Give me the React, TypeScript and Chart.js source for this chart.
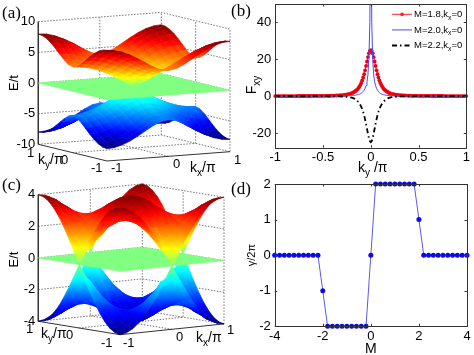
import React, { useEffect, useRef } from "react";
import { Chart, registerables } from "chart.js";

Chart.register(...registerables);
Chart.defaults.font.family = "'Liberation Sans', Arial, sans-serif";
Chart.defaults.color = "#000";

// ---------- data ----------
const kGrid = [-1, -0.875, -0.75, -0.625, -0.5, -0.375, -0.25, -0.125, 0, 0.125, 0.25, 0.375, 0.5, 0.625, 0.75, 0.875, 1];

// upper band, one quadrant (|kx| rows, |ky| columns, in steps of 1/8)
const bandQuarterA = [
  [0.0, 0.78, 1.53, 2.22, 2.83, 3.33, 3.7, 3.92, 4.0],
  [0.78, 1.12, 1.77, 2.43, 3.04, 3.54, 3.91, 4.14, 4.22],
  [1.53, 1.77, 2.32, 2.95, 3.56, 4.08, 4.47, 4.72, 4.8],
  [2.22, 2.43, 2.95, 3.59, 4.23, 4.78, 5.2, 5.46, 5.55],
  [2.83, 3.04, 3.56, 4.23, 4.9, 5.49, 5.94, 6.23, 6.32],
  [3.33, 3.54, 4.08, 4.78, 5.49, 6.12, 6.6, 6.91, 7.01],
  [3.7, 3.91, 4.47, 5.2, 5.94, 6.6, 7.12, 7.44, 7.55],
  [3.92, 4.14, 4.72, 5.46, 6.23, 6.91, 7.44, 7.77, 7.89],
  [4.0, 4.22, 4.8, 5.55, 6.32, 7.01, 7.55, 7.89, 8.0],
];
const bandQuarterC = [
  [4.0, 3.92, 3.7, 3.33, 2.83, 2.22, 1.53, 0.78, 0.0],
  [3.92, 3.85, 3.64, 3.29, 2.83, 2.27, 1.67, 1.08, 0.78],
  [3.7, 3.64, 3.46, 3.19, 2.83, 2.42, 2.0, 1.67, 1.53],
  [3.33, 3.29, 3.19, 3.03, 2.83, 2.61, 2.42, 2.27, 2.22],
  [2.83, 2.83, 2.83, 2.83, 2.83, 2.83, 2.83, 2.83, 2.83],
  [2.22, 2.27, 2.42, 2.61, 2.83, 3.03, 3.19, 3.29, 3.33],
  [1.53, 1.67, 2.0, 2.42, 2.83, 3.19, 3.46, 3.64, 3.7],
  [0.78, 1.08, 1.67, 2.27, 2.83, 3.29, 3.64, 3.85, 3.92],
  [0.0, 0.78, 1.53, 2.22, 2.83, 3.33, 3.7, 3.92, 4.0],
];
const energyTicksA = [-10, -5, 0, 5, 10];
const energyTicksC = [-4, -2, 0, 2, 4];

const seriesNames = ["M=1.8,k_x=0", "M=2.0,k_x=0", "M=2.2,k_x=0"];
const kyHalf = [
  0, 0.01, 0.02, 0.03, 0.04, 0.05, 0.06, 0.07, 0.08, 0.09, 0.1, 0.11, 0.12, 0.13, 0.14, 0.15, 0.16, 0.17, 0.18, 0.19, 0.2,
  0.22, 0.24, 0.26, 0.28, 0.3, 0.32, 0.34, 0.36, 0.38, 0.4, 0.42, 0.44, 0.46, 0.48, 0.5, 0.52, 0.54, 0.56, 0.58, 0.6,
  0.62, 0.64, 0.66, 0.68, 0.7, 0.72, 0.74, 0.76, 0.78, 0.8, 0.82, 0.84, 0.86, 0.88, 0.9, 0.92, 0.94, 0.96, 0.98, 1,
];
const fxyM18 = [
  25, 24.5, 23.2, 21.2, 18.8, 16.4, 14, 11.9, 10.1, 8.5, 7.15, 6.05, 5.1, 4.35, 3.7, 3.2, 2.8, 2.4, 2.1, 1.8, 1.6,
  1.25, 1, 0.8, 0.66, 0.55, 0.46, 0.39, 0.33, 0.28, 0.24, 0.21, 0.18, 0.16, 0.14, 0.13, 0.12, 0.11, 0.1, 0.09, 0.08,
  0.08, 0.07, 0.07, 0.06, 0.06, 0.05, 0.05, 0.05, 0.04, 0.04, 0.04, 0.04, 0.03, 0.03, 0.03, 0.03, 0.03, 0.02, 0.02, 0.02,
];
const fxyM20 = [
  120, 40, 20, 11.5, 7.8, 5.7, 4.2, 3.2, 2.5, 1.9, 1.5, 1.2, 1, 0.85, 0.7, 0.6, 0.5, 0.42, 0.36, 0.3, 0.25,
  0.2, 0.16, 0.13, 0.11, 0.09, 0.08, 0.07, 0.06, 0.05, 0.05, 0.04, 0.04, 0.03, 0.03, 0.03, 0.02, 0.02, 0.02, 0.02, 0.02,
  0.01, 0.01, 0.01, 0.01, 0.01, 0.01, 0.01, 0.01, 0.01, 0.01, 0.01, 0, 0, 0, 0, 0, 0, 0, 0, 0,
];
const fxyM22 = [
  -25, -24.4, -22.8, -20.4, -17.7, -15, -12.6, -10.4, -8.6, -7, -5.8, -4.8, -4, -3.3, -2.7, -2.2, -1.8, -1.5, -1.2, -1, -0.8,
  -0.6, -0.45, -0.35, -0.28, -0.22, -0.18, -0.15, -0.12, -0.1, -0.09, -0.07, -0.06, -0.05, -0.05, -0.04, -0.04, -0.03, -0.03, -0.03, -0.02,
  -0.02, -0.02, -0.02, -0.01, -0.01, -0.01, -0.01, -0.01, -0.01, -0.01, -0.01, -0.01, 0, 0, 0, 0, 0, 0, 0, 0,
];
const fxyTicks = [-20, 0, 20, 40];
const kyTicks = [-1, -0.5, 0, 0.5, 1];

const massValues = [
  -4, -3.8, -3.6, -3.4, -3.2, -3, -2.8, -2.6, -2.4, -2.2, -2, -1.8, -1.6, -1.4, -1.2, -1, -0.8, -0.6, -0.4, -0.2, 0,
  0.2, 0.4, 0.6, 0.8, 1, 1.2, 1.4, 1.6, 1.8, 2, 2.2, 2.4, 2.6, 2.8, 3, 3.2, 3.4, 3.6, 3.8, 4,
];
const chernValues = [
  0, 0, 0, 0, 0, 0, 0, 0, 0, 0, -1, -2, -2, -2, -2, -2, -2, -2, -2, -2, 0,
  2, 2, 2, 2, 2, 2, 2, 2, 2, 1, 0, 0, 0, 0, 0, 0, 0, 0, 0, 0,
];
const massTicks = [-4, -2, 0, 2, 4];
const chernTicks = [-2, -1, 0, 1, 2];

// ---------- helpers ----------
const clamp01 = (v: number) => Math.max(0, Math.min(1, v));
function jet(v: number) {
  const r = clamp01(1.5 - Math.abs(4 * v - 3));
  const g = clamp01(1.5 - Math.abs(4 * v - 2));
  const b = clamp01(1.5 - Math.abs(4 * v - 1));
  return `rgb(${Math.round(r * 255)},${Math.round(g * 255)},${Math.round(b * 255)})`;
}

function drawRich(ctx: any, text: string, x: number, y: number, size: number, opts: any = {}) {
  const parts: any[] = [];
  const re = /_\{([^}]*)\}|_(.)|([^_]+)/g;
  let m: any;
  while ((m = re.exec(text))) {
    if (m[3]) parts.push({ t: m[3], sub: false });
    else parts.push({ t: m[1] || m[2], sub: true });
  }
  const family = "'Liberation Sans', Arial, sans-serif";
  const fontOf = (p: any) => `${p.sub ? size * 0.72 : size}px ${family}`;
  ctx.save();
  ctx.translate(x, y);
  if (opts.rotate) ctx.rotate(opts.rotate);
  ctx.textBaseline = "middle";
  ctx.textAlign = "left";
  ctx.fillStyle = "#000";
  let w = 0;
  parts.forEach((p) => {
    ctx.font = fontOf(p);
    w += ctx.measureText(p.t).width;
  });
  let cx = opts.align === "center" ? -w / 2 : 0;
  parts.forEach((p) => {
    ctx.font = fontOf(p);
    ctx.fillText(p.t, cx, p.sub ? size * 0.36 : 0);
    cx += ctx.measureText(p.t).width;
  });
  ctx.restore();
}

const richTextPlugin = (items: any[]) => ({
  id: "richText",
  afterDraw(chart: any) {
    items.forEach((it) => drawRich(chart.ctx, it.text, it.x, it.y, it.size || 13, it));
  },
});

// paints each surface patch from the points the scales placed
const surfacePlugin = {
  id: "surfacePatch",
  beforeDatasetDraw(chart: any, args: any) {
    const ds = chart.data.datasets[args.index];
    if (!ds.energies) return;
    const pts = args.meta.data;
    const ctx = chart.ctx;
    const en = ds.energies;
    let lo = 0;
    let hi = 0;
    en.forEach((e: number, i: number) => {
      if (e < en[lo]) lo = i;
      if (e > en[hi]) hi = i;
    });
    let paint: any;
    if (en[hi] - en[lo] < 1e-6) paint = jet((en[lo] + ds.colorMax) / (2 * ds.colorMax));
    else {
      paint = ctx.createLinearGradient(pts[lo].x, pts[lo].y, pts[hi].x, pts[hi].y);
      for (let t = 0; t <= 4; t++) {
        const e = en[lo] + ((en[hi] - en[lo]) * t) / 4;
        paint.addColorStop(t / 4, jet((e + ds.colorMax) / (2 * ds.colorMax)));
      }
    }
    ctx.save();
    ctx.beginPath();
    pts.forEach((p: any, i: number) => (i ? ctx.lineTo(p.x, p.y) : ctx.moveTo(p.x, p.y)));
    ctx.closePath();
    ctx.fillStyle = paint;
    ctx.strokeStyle = paint;
    ctx.lineWidth = 0.7;
    ctx.lineJoin = "round";
    ctx.fill();
    ctx.stroke();
    ctx.restore();
  },
};

const framePlugin = {
  id: "matlabFrame",
  afterDatasetsDraw(chart: any) {
    const { ctx, chartArea: a, scales } = chart;
    ctx.save();
    ctx.strokeStyle = "#333";
    ctx.lineWidth = 1;
    ctx.strokeRect(Math.round(a.left) + 0.5, Math.round(a.top) + 0.5, Math.round(a.right - a.left), Math.round(a.bottom - a.top));
    ctx.beginPath();
    scales.x.ticks.forEach((t: any) => {
      const x = Math.round(scales.x.getPixelForValue(t.value)) + 0.5;
      ctx.moveTo(x, a.top);
      ctx.lineTo(x, a.top + 2.5);
      ctx.moveTo(x, a.bottom);
      ctx.lineTo(x, a.bottom - 2.5);
    });
    scales.y.ticks.forEach((t: any) => {
      const y = Math.round(scales.y.getPixelForValue(t.value)) + 0.5;
      ctx.moveTo(a.left, y);
      ctx.lineTo(a.left + 2.5, y);
      ctx.moveTo(a.right, y);
      ctx.lineTo(a.right - 2.5, y);
    });
    ctx.stroke();
    ctx.restore();
  },
};

const sharedOptions = {
  responsive: false,
  animation: false as const,
  events: [] as string[],
};
const noPadding = (s: any) => {
  s.paddingTop = s.paddingBottom = s.paddingLeft = s.paddingRight = 0;
};

function surfaceConfig(g: any) {
  const toXY = (kx: number, ky: number, e: number) => ({
    x: kx * g.ax + ky * (g.ax - 1),
    y: e + g.rx * (kx + 1) + g.ry * (ky - 1),
  });
  const full = (i: number, j: number) => g.quarter[Math.abs(i - 8)][Math.abs(j - 8)];
  const sets: any[] = [];
  const eMin = -g.eMax;
  const line = (data: any[], solid: boolean) =>
    sets.push({
      data,
      showLine: true,
      pointRadius: 0,
      clip: false,
      borderColor: solid ? "#333" : "#666",
      borderWidth: solid ? 1 : 0.9,
      borderDash: solid ? [] : [1.5, 1.5],
    });
  g.ticks.forEach((e: number) => line([toXY(-1, 1, e), toXY(1, 1, e), toXY(1, -1, e)], false));
  line([toXY(0, -1, eMin), toXY(0, 1, eMin), toXY(0, 1, g.eMax)], false);
  line([toXY(-1, 0, eMin), toXY(1, 0, eMin), toXY(1, 0, g.eMax)], false);
  line([toXY(1, 1, eMin), toXY(1, 1, g.eMax)], false);
  line([toXY(1, -1, eMin), toXY(1, -1, g.eMax)], false);
  line([toXY(-1, 1, g.eMax), toXY(-1, 1, eMin), toXY(-1, -1, eMin), toXY(1, -1, eMin)], true);

  const patch = (corners: number[][]) =>
    sets.push({
      data: corners.map((c) => toXY(c[0], c[1], c[2])),
      energies: corners.map((c) => c[2]),
      colorMax: g.colorMax,
      pointRadius: 0,
      showLine: false,
      clip: false,
    });
  [-1, 1].forEach((sign) => {
    if (sign === 1) patch([[-1, -1, 0], [1, -1, 0], [1, 1, 0], [-1, 1, 0]]);
    for (let i = 15; i >= 0; i--) {
      for (let j = 15; j >= 0; j--) {
        patch([
          [kGrid[i], kGrid[j], sign * full(i, j)],
          [kGrid[i + 1], kGrid[j], sign * full(i + 1, j)],
          [kGrid[i + 1], kGrid[j + 1], sign * full(i + 1, j + 1)],
          [kGrid[i], kGrid[j + 1], sign * full(i, j + 1)],
        ]);
      }
    }
  });
  const valueAt = (p: number) => -g.eMax + (g.floorPx - p) / g.pxPerE;
  return {
    type: "scatter",
    data: { datasets: sets.reverse() },
    options: {
      ...sharedOptions,
      layout: { padding: { top: g.top, right: g.width - g.right, left: 0, bottom: g.height - g.bottom } },
      plugins: { legend: { display: false }, tooltip: { enabled: false } },
      scales: {
        x: { type: "linear", display: false, min: -1, max: 1 },
        y: {
          type: "linear",
          min: valueAt(g.bottom),
          max: valueAt(g.top),
          afterBuildTicks: (s: any) => {
            s.ticks = g.ticks.map((value: number) => ({ value }));
          },
          afterFit: (s: any) => {
            s.width = g.left;
            noPadding(s);
          },
          grid: { display: false, drawTicks: false },
          border: { display: false },
          ticks: { font: { size: 13 }, color: "#000", padding: 3, autoSkip: false, callback: (v: any) => String(v) },
          title: { display: true, text: "E/t", font: { size: 13 }, color: "#000", padding: { top: 7, bottom: 0 } },
        },
      },
    },
    plugins: [surfacePlugin, richTextPlugin(g.labels)],
  };
}

function configA() {
  return surfaceConfig({
    quarter: bandQuarterA, ticks: energyTicksA, eMax: 10, colorMax: 8,
    ax: 0.6416, rx: 0.7586, ry: 1.362, pxPerE: 6.13, floorPx: 144.3,
    width: 242, height: 178, left: 38.3, right: 230, top: 10, bottom: 156,
    labels: [
      { text: "1", x: 27, y: 153 },
      { text: "k_y/π", x: 38, y: 160, size: 14 },
      { text: "0", x: 61, y: 160 },
      { text: "-1", x: 91, y: 168 },
      { text: "-1", x: 111, y: 168 },
      { text: "0", x: 173, y: 164 },
      { text: "k_x/π", x: 190, y: 168, size: 14 },
      { text: "1", x: 234, y: 160 },
    ],
  });
}
function configC() {
  return surfaceConfig({
    quarter: bandQuarterC, ticks: energyTicksC, eMax: 4, colorMax: 4,
    ax: 0.56, rx: 0.341, ry: 0.423, pxPerE: 15.83, floorPx: 143.3,
    width: 242, height: 177, left: 38.3, right: 224, top: 5, bottom: 158,
    labels: [
      { text: "1", x: 26, y: 151 },
      { text: "k_y/π", x: 41, y: 156, size: 14 },
      { text: "0", x: 66, y: 157 },
      { text: "-1", x: 101, y: 165 },
      { text: "-1", x: 123, y: 165 },
      { text: "0", x: 176, y: 159 },
      { text: "k_x/π", x: 196, y: 160, size: 14 },
      { text: "1", x: 227, y: 152 },
    ],
  });
}

function mirrored(values: number[]) {
  const left = kyHalf.slice(1).reverse().map((k, i) => ({ x: -k, y: values[kyHalf.length - 1 - i] }));
  const right = kyHalf.map((k, i) => ({ x: k, y: values[i] }));
  return [...left, ...right];
}

const legendPlugin = {
  id: "lineKey",
  afterDraw(chart: any) {
    const ctx = chart.ctx;
    chart.data.datasets.forEach((ds: any) => {
      const row = ds.legendRow;
      const y = 14.3 + row * 15.6;
      ctx.save();
      ctx.strokeStyle = ds.borderColor;
      ctx.lineWidth = ds.borderWidth;
      ctx.setLineDash(ds.borderDash || []);
      ctx.beginPath();
      ctx.moveTo(155, y);
      ctx.lineTo(175, y);
      ctx.stroke();
      if (ds.pointRadius) {
        ctx.fillStyle = ds.borderColor;
        ctx.beginPath();
        ctx.arc(165, y, ds.pointRadius, 0, 7);
        ctx.fill();
      }
      ctx.restore();
      drawRich(ctx, ds.label, 177, y, 9.5);
    });
  },
};

function planarAxis(list: number[], extra: any) {
  return {
    type: "linear",
    afterBuildTicks: (s: any) => {
      s.ticks = list.map((value) => ({ value }));
    },
    grid: { display: false, drawTicks: false },
    border: { display: false },
    ...extra,
    ticks: {
      font: { size: 13 }, color: "#000", maxRotation: 0, autoSkip: false,
      callback: (v: any) => String(v), ...extra.ticks,
    },
  };
}

function configB() {
  return {
    type: "scatter",
    data: {
      datasets: [
        { label: seriesNames[2], legendRow: 2, data: mirrored(fxyM22), showLine: true, pointRadius: 0, borderColor: "#000", borderWidth: 1.8, borderDash: [5, 3, 1.5, 3] },
        { label: seriesNames[1], legendRow: 1, data: mirrored(fxyM20), showLine: true, pointRadius: 0, borderColor: "#4a4aff", borderWidth: 1 },
        { label: seriesNames[0], legendRow: 0, data: mirrored(fxyM18), showLine: true, pointRadius: 1.9, pointBackgroundColor: "#f0000f", pointBorderWidth: 0, borderColor: "#ff2030", borderWidth: 1, clip: false },
      ],
    },
    options: {
      ...sharedOptions,
      layout: { padding: { top: 3.3, right: 7.7, left: 0, bottom: 0 } },
      plugins: { legend: { display: false }, tooltip: { enabled: false } },
      scales: {
        x: planarAxis(kyTicks, {
          min: -1, max: 1,
          afterFit: (s: any) => { s.height = 30.3; noPadding(s); },
          ticks: { padding: 2 },
        }),
        y: planarAxis(fxyTicks, {
          min: -28, max: 50,
          afterFit: (s: any) => { s.width = 38.3; noPadding(s); },
          ticks: { padding: 4 },
        }),
      },
    },
    plugins: [
      framePlugin, legendPlugin,
      richTextPlugin([
        { text: "k_y /π", x: 121, y: 168, size: 14 },
        { text: "F_{xy}", x: 15, y: 85, size: 14, rotate: -Math.PI / 2, align: "center" },
      ]),
    ],
  };
}

function configD() {
  return {
    type: "scatter",
    data: {
      datasets: [
        {
          label: "γ/2π",
          data: massValues.map((m, i) => ({ x: m, y: chernValues[i] })),
          showLine: true, clip: false, pointRadius: 2.5, pointBorderWidth: 0,
          pointBackgroundColor: "#0a0ae6", borderColor: "#5a5ae6", borderWidth: 1,
        },
      ],
    },
    options: {
      ...sharedOptions,
      layout: { padding: { top: 6, right: 7, left: 0, bottom: 0 } },
      plugins: { legend: { display: false }, tooltip: { enabled: false } },
      scales: {
        x: planarAxis(massTicks, {
          min: -4, max: 4,
          afterFit: (s: any) => { s.height = 29.7; noPadding(s); },
          ticks: { padding: 2 },
          title: { display: true, text: "M", font: { size: 14, lineHeight: 1 }, color: "#000", padding: { top: 0, bottom: 0 } },
        }),
        y: planarAxis(chernTicks, {
          min: -2, max: 2,
          afterFit: (s: any) => { s.width = 37.7; noPadding(s); },
          ticks: { padding: 4 },
          title: { display: true, text: "γ/2π", font: { size: 11 }, color: "#000", padding: { top: 8, bottom: 0 } },
        }),
      },
    },
    plugins: [framePlugin],
  };
}

function Panel({ build, x, y, w, h }: any) {
  const ref = useRef<HTMLCanvasElement>(null);
  useEffect(() => {
    const chart = new Chart(ref.current as any, build());
    return () => chart.destroy();
  }, [build]);
  return (
    <div style={{ position: "absolute", left: x, top: y, width: w, height: h }}>
      <canvas ref={ref} width={w} height={h} />
    </div>
  );
}

const panelTags = [
  { text: "(a)", x: 2, y: 3 },
  { text: "(b)", x: 231, y: 1 },
  { text: "(c)", x: 2, y: 175 },
  { text: "(d)", x: 231, y: 179 },
];

export default function App() {
  return (
    <div style={{ position: "fixed", left: 0, top: 0, width: 474, height: 355, overflow: "hidden", background: "#fff", filter: "blur(0.35px)" }}>
      <Panel build={configB} x={237} y={0} w={237} h={178} />
      <Panel build={configD} x={237} y={178} w={237} h={178} />
      <Panel build={configA} x={0} y={0} w={242} h={178} />
      <Panel build={configC} x={0} y={178} w={242} h={177} />
      {panelTags.map((t) => (
        <div
          key={t.text}
          style={{ position: "absolute", left: t.x, top: t.y, fontFamily: "'Liberation Serif', serif", fontSize: 17, lineHeight: "20px", color: "#000" }}
        >
          {t.text}
        </div>
      ))}
    </div>
  );
}
